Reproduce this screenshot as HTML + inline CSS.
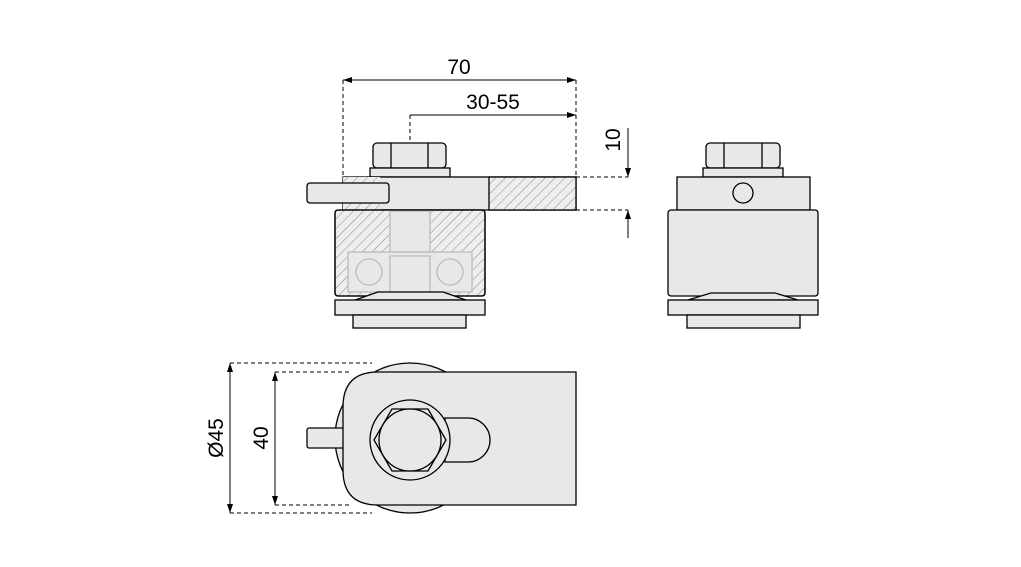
<!DOCTYPE html>
<html><head><meta charset="utf-8"><style>body{margin:0;background:#fff}svg{display:block}</style></head><body>
<svg width="1021" height="567" viewBox="0 0 1021 567" xmlns="http://www.w3.org/2000/svg" font-family="Liberation Sans, sans-serif">
<defs>
<pattern id="h" width="7" height="7" patternUnits="userSpaceOnUse" patternTransform="rotate(45)"><rect width="7" height="7" fill="#eee"/><line x1="0" y1="0" x2="0" y2="7" stroke="#888" stroke-width="1"/></pattern>
<marker id="a" markerWidth="10" markerHeight="8" refX="9" refY="4" orient="auto-start-reverse" markerUnits="userSpaceOnUse"><path d="M0,1 L9,4 L0,7z" fill="#000"/></marker>
</defs>
<g stroke="#000" stroke-width="1" fill="none">
<line x1="343" y1="80" x2="576" y2="80" marker-start="url(#a)" marker-end="url(#a)"/>
<line x1="410" y1="115" x2="576" y2="115" marker-end="url(#a)"/>
<g stroke-dasharray="4,3"><line x1="343" y1="80" x2="343" y2="177"/><line x1="410" y1="115" x2="410" y2="140"/><line x1="576" y1="80" x2="576" y2="177"/>
<line x1="576" y1="177" x2="628" y2="177"/><line x1="576" y1="210" x2="628" y2="210"/>
<line x1="230" y1="363" x2="372" y2="363"/><line x1="230" y1="513" x2="372" y2="513"/>
<line x1="275" y1="372" x2="352" y2="372"/><line x1="275" y1="505" x2="352" y2="505"/></g>
<line x1="628" y1="128" x2="628" y2="177" marker-end="url(#a)"/>
<line x1="628" y1="238" x2="628" y2="210" marker-end="url(#a)"/>
<line x1="230" y1="363" x2="230" y2="513" marker-start="url(#a)" marker-end="url(#a)"/>
<line x1="275" y1="372" x2="275" y2="505" marker-start="url(#a)" marker-end="url(#a)"/>
</g>
<g font-size="21" fill="#000" text-anchor="middle">
<text x="459" y="74">70</text><text x="493" y="109">30-55</text>
<text transform="translate(620,140) rotate(-90)">10</text>
<text transform="translate(223,438) rotate(-90)">Ø45</text>
<text transform="translate(268,438) rotate(-90)">40</text>
</g>
<g stroke="#000" stroke-width="1.3" fill="#e8e8e8">
<rect x="373" y="143" width="73" height="25" rx="4"/>
<line x1="391" y1="143" x2="391" y2="168"/><line x1="428" y1="143" x2="428" y2="168"/>
<rect x="370" y="168" width="80" height="9"/>
<rect x="343" y="177" width="233" height="33"/>
<rect x="343" y="177" width="37" height="33" fill="url(#h)" stroke="none"/>
<rect x="489" y="177" width="87" height="33" fill="url(#h)"/>
<rect x="335" y="210" width="150" height="86" rx="3" fill="url(#h)"/>
<rect x="390" y="211" width="40" height="41" fill="#e8e8e8" stroke="#bbb"/>
<rect x="348" y="252" width="124" height="40" fill="#e8e8e8" stroke="#bbb"/>
<rect x="390" y="256" width="40" height="36" fill="#e8e8e8" stroke="#bbb"/>
<circle cx="369" cy="272" r="13" stroke="#bbb"/><circle cx="450" cy="272" r="13" stroke="#bbb"/>
<rect x="335" y="210" width="150" height="86" rx="3" fill="none"/>
<rect x="307" y="183" width="82" height="20" rx="3"/>
<path d="M355,300 L378,292 L443,292 L466,300Z"/>
<rect x="335" y="300" width="150" height="15"/>
<rect x="353" y="315" width="113" height="13"/>
</g>
<g stroke="#000" stroke-width="1.3" fill="#e8e8e8">
<rect x="706" y="143" width="74" height="25" rx="4"/>
<line x1="724" y1="143" x2="724" y2="168"/><line x1="762" y1="143" x2="762" y2="168"/>
<rect x="703" y="168" width="80" height="9"/>
<rect x="677" y="177" width="133" height="33"/>
<circle cx="743" cy="193" r="10"/>
<rect x="668" y="210" width="150" height="86" rx="3"/>
<path d="M688,300 L711,293 L775,293 L798,300Z"/>
<rect x="668" y="300" width="150" height="15"/>
<rect x="687" y="315" width="113" height="13"/>
</g>
<g stroke="#000" stroke-width="1.3" fill="#e8e8e8">
<circle cx="410" cy="438" r="75"/>
<rect x="307" y="428" width="40" height="20" rx="2"/>
<path d="M378,372 L576,372 L576,505 L378,505 Q343,505 343,470 L343,407 Q343,372 378,372Z"/>
<path d="M445,418 L468,418 A22,22 0 0 1 468,462 L445,462Z"/>
<circle cx="410" cy="440" r="40"/>
<polygon points="374,440 392,409 428,409 446,440 428,471 392,471"/>
<circle cx="410" cy="440" r="31"/>
</g>
</svg>
</body></html>
